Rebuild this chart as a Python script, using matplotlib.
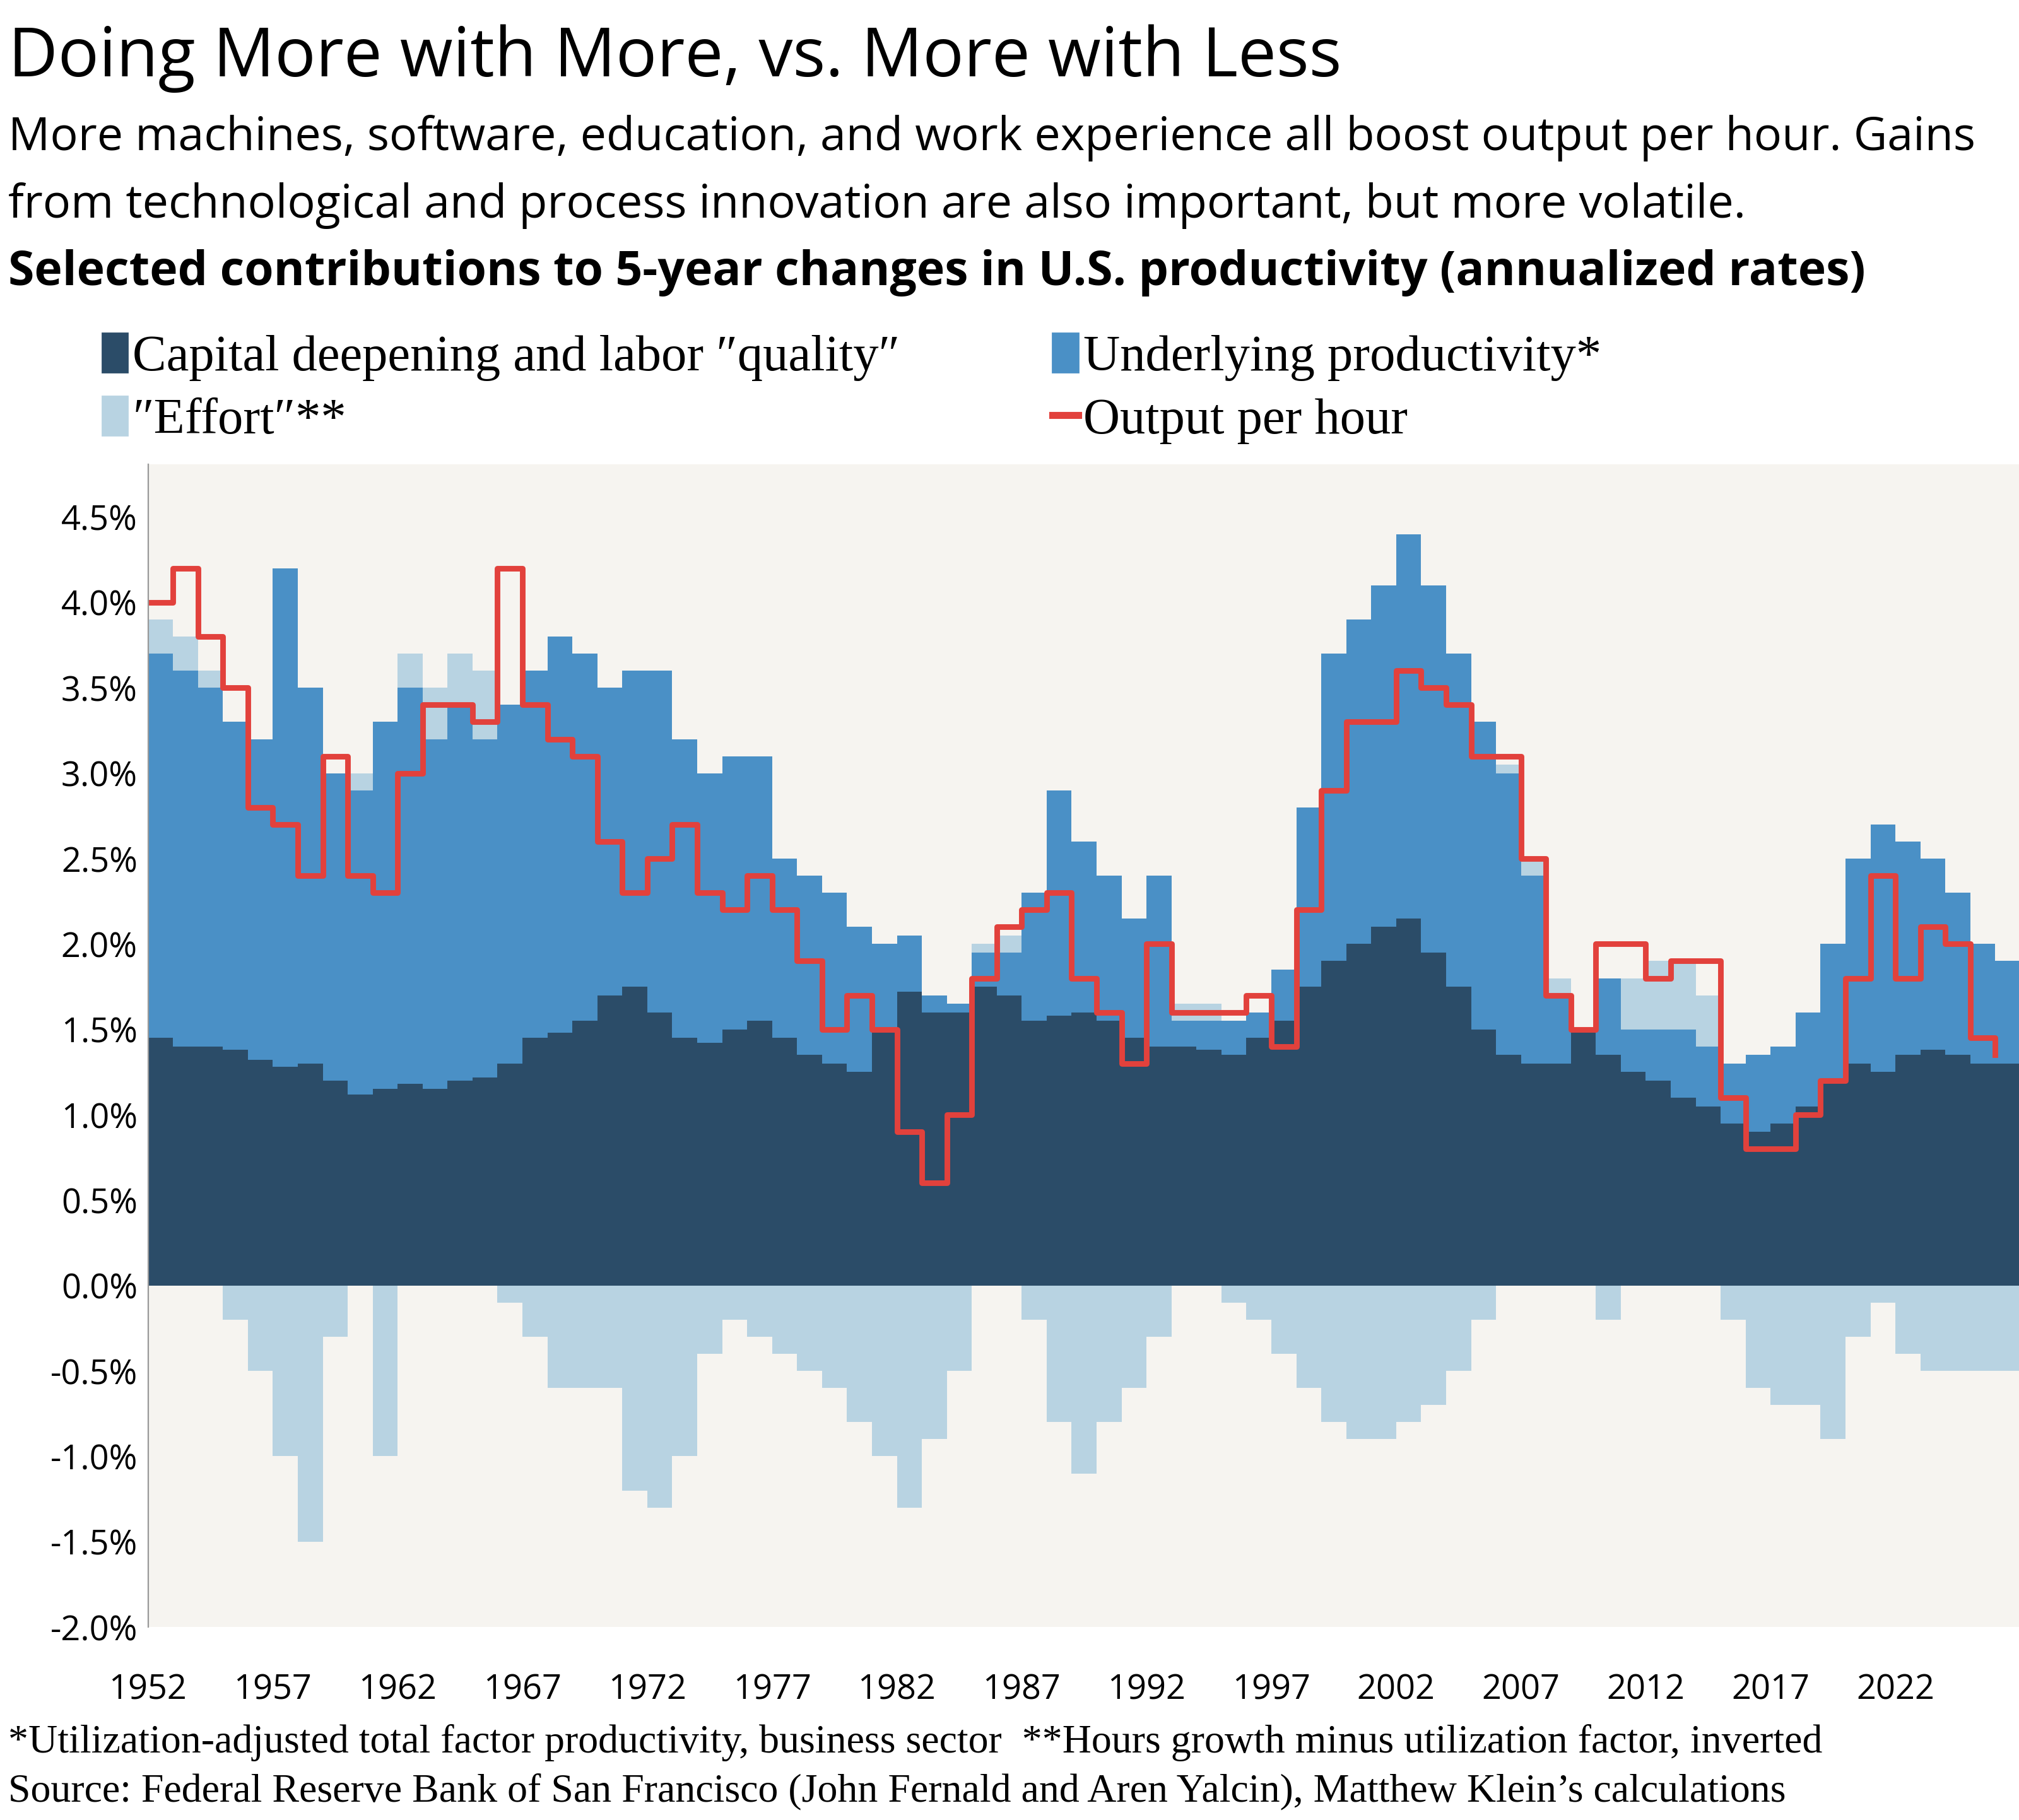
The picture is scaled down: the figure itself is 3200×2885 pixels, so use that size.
import numpy as np
import matplotlib.pyplot as plt
from matplotlib.patches import Patch
from matplotlib.lines import Line2D

years = np.arange(1952, 2027)

capital = [1.45, 1.40, 1.40, 1.38, 1.32, 1.28, 1.30, 1.20, 1.12, 1.15,
           1.18, 1.15, 1.20, 1.22, 1.30, 1.45, 1.48, 1.55, 1.70, 1.75,
           1.60, 1.45, 1.42, 1.50, 1.55, 1.45, 1.35, 1.30, 1.25, 1.50,
           1.72, 1.70, 1.60, 1.75, 1.70, 1.55, 1.58, 1.60, 1.55, 1.45,
           1.40, 1.40, 1.38, 1.35, 1.45, 1.55, 1.75, 1.90, 2.00, 2.10,
           2.15, 1.95, 1.75, 1.50, 1.35, 1.30, 1.30, 1.50, 1.35, 1.25,
           1.20, 1.10, 1.05, 0.95, 0.90, 0.95, 1.05, 1.20, 1.30, 1.25,
           1.35, 1.38, 1.35, 1.30, 1.30]

# top of capital + underlying productivity
cap_plus_tfp = [3.70, 3.60, 3.50, 3.30, 3.20, 4.20, 3.50, 3.00, 2.90, 3.30,
                3.50, 3.20, 3.40, 3.20, 3.40, 3.60, 3.80, 3.70, 3.50, 3.60,
                3.60, 3.20, 3.00, 3.10, 3.10, 2.50, 2.40, 2.30, 2.10, 2.00,
                2.05, 1.60, 1.65, 1.95, 1.95, 2.30, 2.90, 2.60, 2.40, 2.15,
                2.40, 1.55, 1.55, 1.55, 1.60, 1.85, 2.80, 3.70, 3.90, 4.10,
                4.40, 4.10, 3.70, 3.30, 3.00, 2.40, 1.70, 1.50, 1.80, 1.50,
                1.50, 1.50, 1.40, 1.30, 1.35, 1.40, 1.60, 2.00, 2.50, 2.70,
                2.60, 2.50, 2.30, 2.00, 1.90]

effort = [0.20, 0.20, 0.10, -0.20, -0.50, -1.00, -1.50, -0.30, 0.10, -1.00,
          0.20, 0.30, 0.30, 0.40, -0.10, -0.30, -0.60, -0.60, -0.60, -1.20,
          -1.30, -1.00, -0.40, -0.20, -0.30, -0.40, -0.50, -0.60, -0.80, -1.00,
          -1.30, -0.90, -0.50, 0.05, 0.10, -0.20, -0.80, -1.10, -0.80, -0.60,
          -0.30, 0.10, 0.10, -0.10, -0.20, -0.40, -0.60, -0.80, -0.90, -0.90,
          -0.80, -0.70, -0.50, -0.20, 0.05, 0.10, 0.10, 0.00, -0.20, 0.30,
          0.40, 0.40, 0.30, -0.20, -0.60, -0.70, -0.70, -0.90, -0.30, -0.10,
          -0.40, -0.50, -0.50, -0.50, -0.50]

output = [4.00, 4.20, 3.80, 3.50, 2.80, 2.70, 2.40, 3.10, 2.40, 2.30,
          3.00, 3.40, 3.40, 3.30, 4.20, 3.40, 3.20, 3.10, 2.60, 2.30,
          2.50, 2.70, 2.30, 2.20, 2.40, 2.20, 1.90, 1.50, 1.70, 1.50,
          0.90, 0.60, 1.00, 1.80, 2.10, 2.20, 2.30, 1.80, 1.60, 1.30,
          2.00, 1.60, 1.60, 1.60, 1.70, 1.40, 2.20, 2.90, 3.30, 3.30,
          3.60, 3.50, 3.40, 3.10, 3.10, 2.50, 1.70, 1.50, 2.00, 2.00,
          1.80, 1.90, 1.90, 1.10, 0.80, 0.80, 1.00, 1.20, 1.80, 2.40,
          1.80, 2.10, 2.00, 1.45, 1.35]

C_CAP, C_TFP, C_EFF, C_OUT = '#2b4c68', '#4a90c6', '#b8d3e2', '#e2413c'
SANS = 'Open Sans'
SERIF = 'Liberation Serif'

cap = np.array(capital)
tfp = np.array(cap_plus_tfp) - cap
eff = np.array(effort)
x = years + 0.5

fig = plt.figure(figsize=(16, 14.425), dpi=200)
ax = fig.add_axes([0.0733, 0.106, 0.9267, 0.639])
ax.set_facecolor('#f6f4f0')

ax.bar(x, cap, width=1.0, color=C_CAP, linewidth=0)
ax.bar(x, tfp, bottom=cap, width=1.0, color=C_TFP, linewidth=0)
eff_pos = np.where(eff > 0, eff, 0)
eff_neg = np.where(eff < 0, eff, 0)
ax.bar(x, eff_pos, bottom=cap + tfp, width=1.0, color=C_EFF, linewidth=0)
ax.bar(x, eff_neg, width=1.0, color=C_EFF, linewidth=0)
ax.step(years, output, where='post', color=C_OUT, lw=3.2)

ax.set_xlim(1952, 2026.95)
ax.set_ylim(-2.0, 4.81)
ax.set_yticks(np.arange(-2.0, 4.6, 0.5))
ax.set_yticklabels([f'{v:.1f}%' for v in np.arange(-2.0, 4.6, 0.5)],
                   fontsize=19.5, family=SANS)
ax.set_xticks(np.arange(1952, 2023, 5))
ax.set_xticklabels([str(y) for y in range(1952, 2023, 5)], fontsize=19.5, family=SANS)
ax.tick_params(axis='x', length=0, pad=26)
ax.tick_params(axis='y', length=0, pad=6)
for s in ['top', 'right', 'bottom']:
    ax.spines[s].set_visible(False)
ax.spines['left'].set_color('#999999')
ax.spines['left'].set_linewidth(0.8)

fig.text(0.004, 0.968, 'Doing More with More, vs. More with Less',
         fontsize=39, family=SANS, va='center')
fig.text(0.004, 0.924, 'More machines, software, education, and work experience all boost output per hour. Gains',
         fontsize=26.5, family=SANS, va='center')
fig.text(0.004, 0.887, 'from technological and process innovation are also important, but more volatile.',
         fontsize=26.5, family=SANS, va='center')
fig.text(0.004, 0.850, 'Selected contributions to 5-year changes in U.S. productivity (annualized rates)',
         fontsize=27, family=SANS, weight='bold', va='center')

handles = [Patch(color=C_CAP), Patch(color=C_EFF), Patch(color=C_TFP),
           Line2D([], [], color=C_OUT, lw=4)]
labels = ['Capital deepening and labor \u2033quality\u2033', '\u2033Effort\u2033**',
          'Underlying productivity*', 'Output per hour']
fig.legend(handles, labels, loc='upper left', bbox_to_anchor=(0.028, 0.842),
           ncol=2, frameon=False, prop={'family': SERIF, 'size': 29},
           handlelength=0.5, handleheight=0.8, handletextpad=0.1,
           columnspacing=3.0, labelspacing=0.3)

fig.text(0.004, 0.0425, '*Utilization-adjusted total factor productivity, business sector  '
         '**Hours growth minus utilization factor, inverted',
         fontsize=23, family=SERIF, va='center')
fig.text(0.004, 0.0156, 'Source: Federal Reserve Bank of San Francisco (John Fernald and Aren Yalcin), '
         "Matthew Klein\u2019s calculations", fontsize=23, family=SERIF, va='center')

fig.savefig('out.png', dpi=200)
